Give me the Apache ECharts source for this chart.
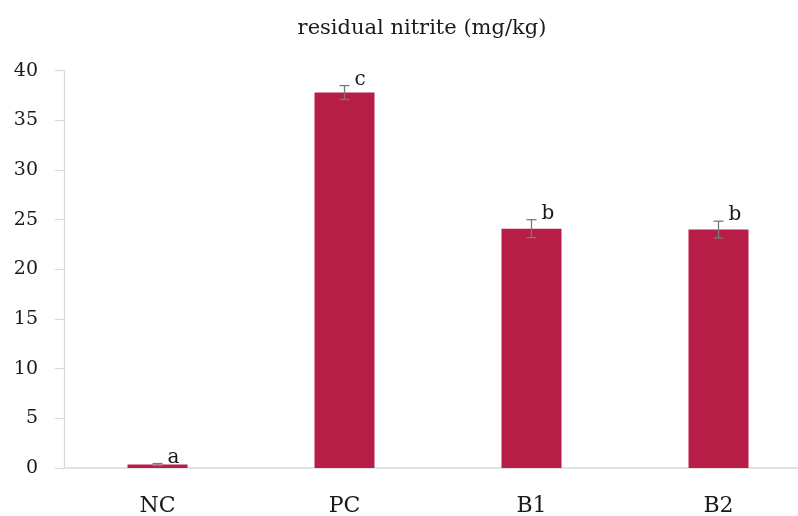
<!DOCTYPE html>
<html>
<head>
<meta charset="utf-8">
<script src="https://cdn.jsdelivr.net/npm/echarts@6/dist/echarts.min.js"></script>
<style>html,body{margin:0;padding:0;background:#fff;}#c{width:798px;height:516px;}</style>
</head>
<body>
<div id="c"></div>
<script>
var categories = ['NC', 'PC', 'B1', 'B2'];
var values = [0.35, 37.8, 24.1, 24.0];
var errors = [0.1, 0.7, 0.9, 0.85];
var letters = ['a', 'c', 'b', 'b'];
var yTicks = [0, 5, 10, 15, 20, 25, 30, 35, 40];

var FONT = '"DejaVu Serif", "Liberation Serif", serif';
var chart = echarts.init(document.getElementById('c'), null, {renderer: 'canvas'});
var errData = categories.map(function (c, i) { return [i, values[i], errors[i], letters[i]]; });

chart.setOption({
  animation: false,
  backgroundColor: '#fff',
  title: {
    text: 'residual nitrite (mg/kg)',
    left: 417, top: 13, textAlign: 'center',
    textStyle: {fontFamily: FONT, fontSize: 21, fontWeight: 'normal', color: '#1a1a1a'}
  },
  grid: {left: 64, width: 748, top: 70.7, height: 397.3, containLabel: false, outerBoundsMode: 'none'},
  xAxis: {
    type: 'category', data: categories,
    axisLine: {lineStyle: {color: '#d9d9d9', width: 1.5}},
    axisTick: {show: false},
    axisLabel: {fontFamily: FONT, fontSize: 22, color: '#1a1a1a', margin: 27}
  },
  yAxis: {
    type: 'value', min: yTicks[0], max: yTicks[yTicks.length - 1], interval: 5,
    splitLine: {show: false},
    axisLine: {show: true, lineStyle: {color: '#d9d9d9', width: 1.2}},
    axisTick: {show: true, length: 9, lineStyle: {color: '#d9d9d9', width: 1.2}},
    axisLabel: {fontFamily: FONT, fontSize: 19, color: '#1a1a1a', margin: 26}
  },
  series: [
    {
      type: 'bar', data: values, barWidth: 60,
      itemStyle: {color: '#B81D48'}
    },
    {
      type: 'custom', data: errData, z: 10,
      renderItem: function (params, api) {
        var x = api.value(0), v = api.value(1), e = api.value(2);
        var top = api.coord([x, v + e]);
        var bot = api.coord([x, v - e]);
        var w = 5;
        var lbl = letters[params.dataIndex];
        return {
          type: 'group',
          children: [
            {type: 'line', shape: {x1: top[0], y1: top[1], x2: bot[0], y2: bot[1]}, style: {stroke: '#7a7a7a', lineWidth: 1.3}},
            {type: 'line', shape: {x1: top[0] - w, y1: top[1], x2: top[0] + w, y2: top[1]}, style: {stroke: '#7a7a7a', lineWidth: 1.3}},
            {type: 'line', shape: {x1: bot[0] - w, y1: bot[1], x2: bot[0] + w, y2: bot[1]}, style: {stroke: '#7a7a7a', lineWidth: 1.3}},
            {type: 'text', x: top[0] + 10, y: top[1] + 4, style: {text: lbl, fontFamily: FONT, fontSize: 20, fill: '#1a1a1a', textAlign: 'left', textVerticalAlign: 'bottom'}}
          ]
        };
      }
    }
  ]
});
</script>
</body>
</html>
